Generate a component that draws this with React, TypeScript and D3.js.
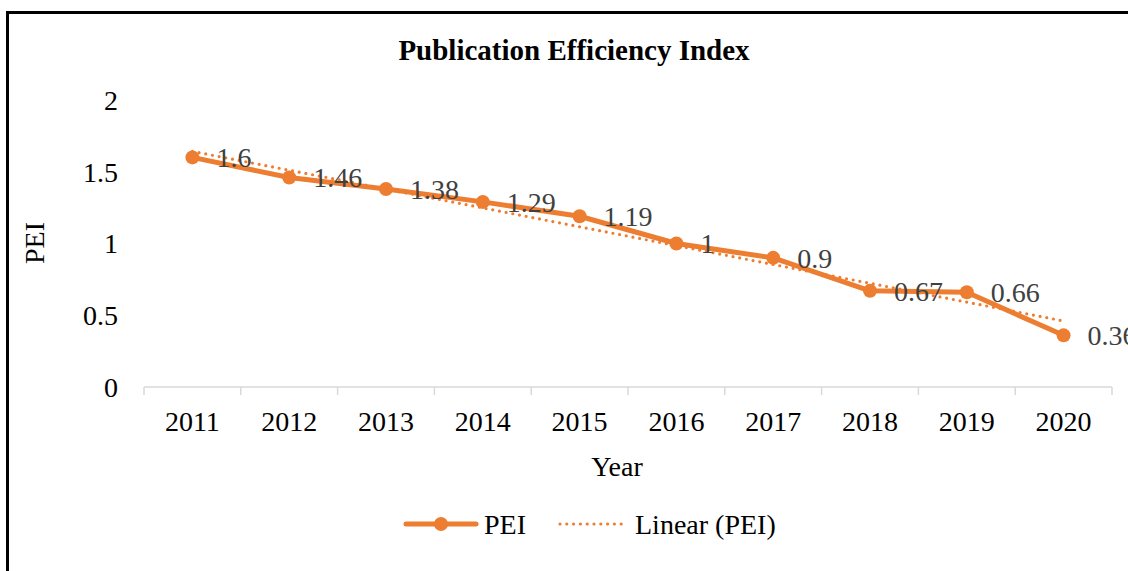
import React from "react";
import * as d3 from "d3";

const years = ["2011", "2012", "2013", "2014", "2015", "2016", "2017", "2018", "2019", "2020"];
const pei = [1.6, 1.46, 1.38, 1.29, 1.19, 1, 0.9, 0.67, 0.66, 0.36];
const yTicks = [0, 0.5, 1, 1.5, 2];
const labels = ["1.6", "1.46", "1.38", "1.29", "1.19", "1", "0.9", "0.67", "0.66", "0.36"];

const ORANGE = "#ED7D31";
const FONT = "'Liberation Serif', 'Times New Roman', serif";

export default function App() {
  const W = 1128, H = 571;
  const left = 144, right = 1112, top = 100, bottom = 387;
  const x = d3.scaleBand<string>().domain(years).range([left, right]);
  const y = d3.scaleLinear().domain([0, 2]).range([bottom, top]);
  const cx = (d: string) => (x(d) as number) + x.bandwidth() / 2;

  // linear trendline (least squares)
  const xs = pei.map((_, i) => i + 1);
  const mx = d3.mean(xs) as number;
  const my = d3.mean(pei) as number;
  const slope = d3.sum(xs.map((v, i) => (v - mx) * (pei[i] - my))) / d3.sum(xs.map((v) => (v - mx) ** 2));
  const icpt = my - slope * mx;
  const trend = years.map((yr, i) => [cx(yr), y(icpt + slope * (i + 1))] as [number, number]);

  const line = d3.line<number>().x((_, i) => cx(years[i])).y((d) => y(d));
  const tline = d3.line<[number, number]>();

  return (
    <svg width={W} height={H} style={{ position: "absolute", left: 0, top: 0, background: "#fff" }} fontFamily={FONT}>
      <rect x={0} y={0} width={W} height={H} fill="#fff" />
      <rect x={7.5} y={12.5} width={W + 20} height={H + 20} fill="none" stroke="#000" strokeWidth={3} />
      <text x={574} y={60} textAnchor="middle" fontWeight="bold" fontSize={29}>Publication Efficiency Index</text>

      {/* y tick labels */}
      {yTicks.map((t) => (
        <text key={t} x={118} y={y(t)} dy="0.35em" textAnchor="end" fontSize={28} fill="#000">{t}</text>
      ))}
      {/* x axis */}
      <line x1={left} x2={right} y1={bottom} y2={bottom} stroke="#d9d9d9" strokeWidth={1.5} />
      {years.map((yr) => (
        <line key={yr} x1={x(yr) as number} x2={x(yr) as number} y1={bottom} y2={bottom + 8} stroke="#d9d9d9" strokeWidth={1.5} />
      ))}
      <line x1={right} x2={right} y1={bottom} y2={bottom + 8} stroke="#d9d9d9" strokeWidth={1.5} />
      {years.map((yr) => (
        <text key={yr} x={cx(yr)} y={431} textAnchor="middle" fontSize={28} fill="#000">{yr}</text>
      ))}

      <text x={617} y={476} textAnchor="middle" fontSize={28}>Year</text>
      <text transform={`translate(44,243) rotate(-90)`} textAnchor="middle" fontSize={28}>PEI</text>

      {/* series */}
      <path d={line(pei) as string} fill="none" stroke={ORANGE} strokeWidth={5} strokeLinejoin="round" />
      {pei.map((v, i) => (
        <circle key={i} cx={cx(years[i])} cy={y(v)} r={7} fill={ORANGE} />
      ))}
      <path d={tline(trend) as string} fill="none" stroke={ORANGE} strokeWidth={3.2} strokeDasharray="0 6.8" strokeLinecap="round" />
      {pei.map((v, i) => (
        <text key={i} x={cx(years[i]) + 24} y={y(v)} dy="0.35em" fontSize={28} fill="#404040">{labels[i]}</text>
      ))}

      {/* legend */}
      <line x1={406} x2={476} y1={524} y2={524} stroke={ORANGE} strokeWidth={5} strokeLinecap="round" />
      <circle cx={441} cy={524} r={7} fill={ORANGE} />
      <text x={484} y={524} dy="0.35em" fontSize={28}>PEI</text>
      <line x1={560} x2={627} y1={524} y2={524} stroke={ORANGE} strokeWidth={3.2} strokeDasharray="0 6.8" strokeLinecap="round" />
      <text x={635} y={524} dy="0.35em" fontSize={28}>Linear (PEI)</text>
    </svg>
  );
}
